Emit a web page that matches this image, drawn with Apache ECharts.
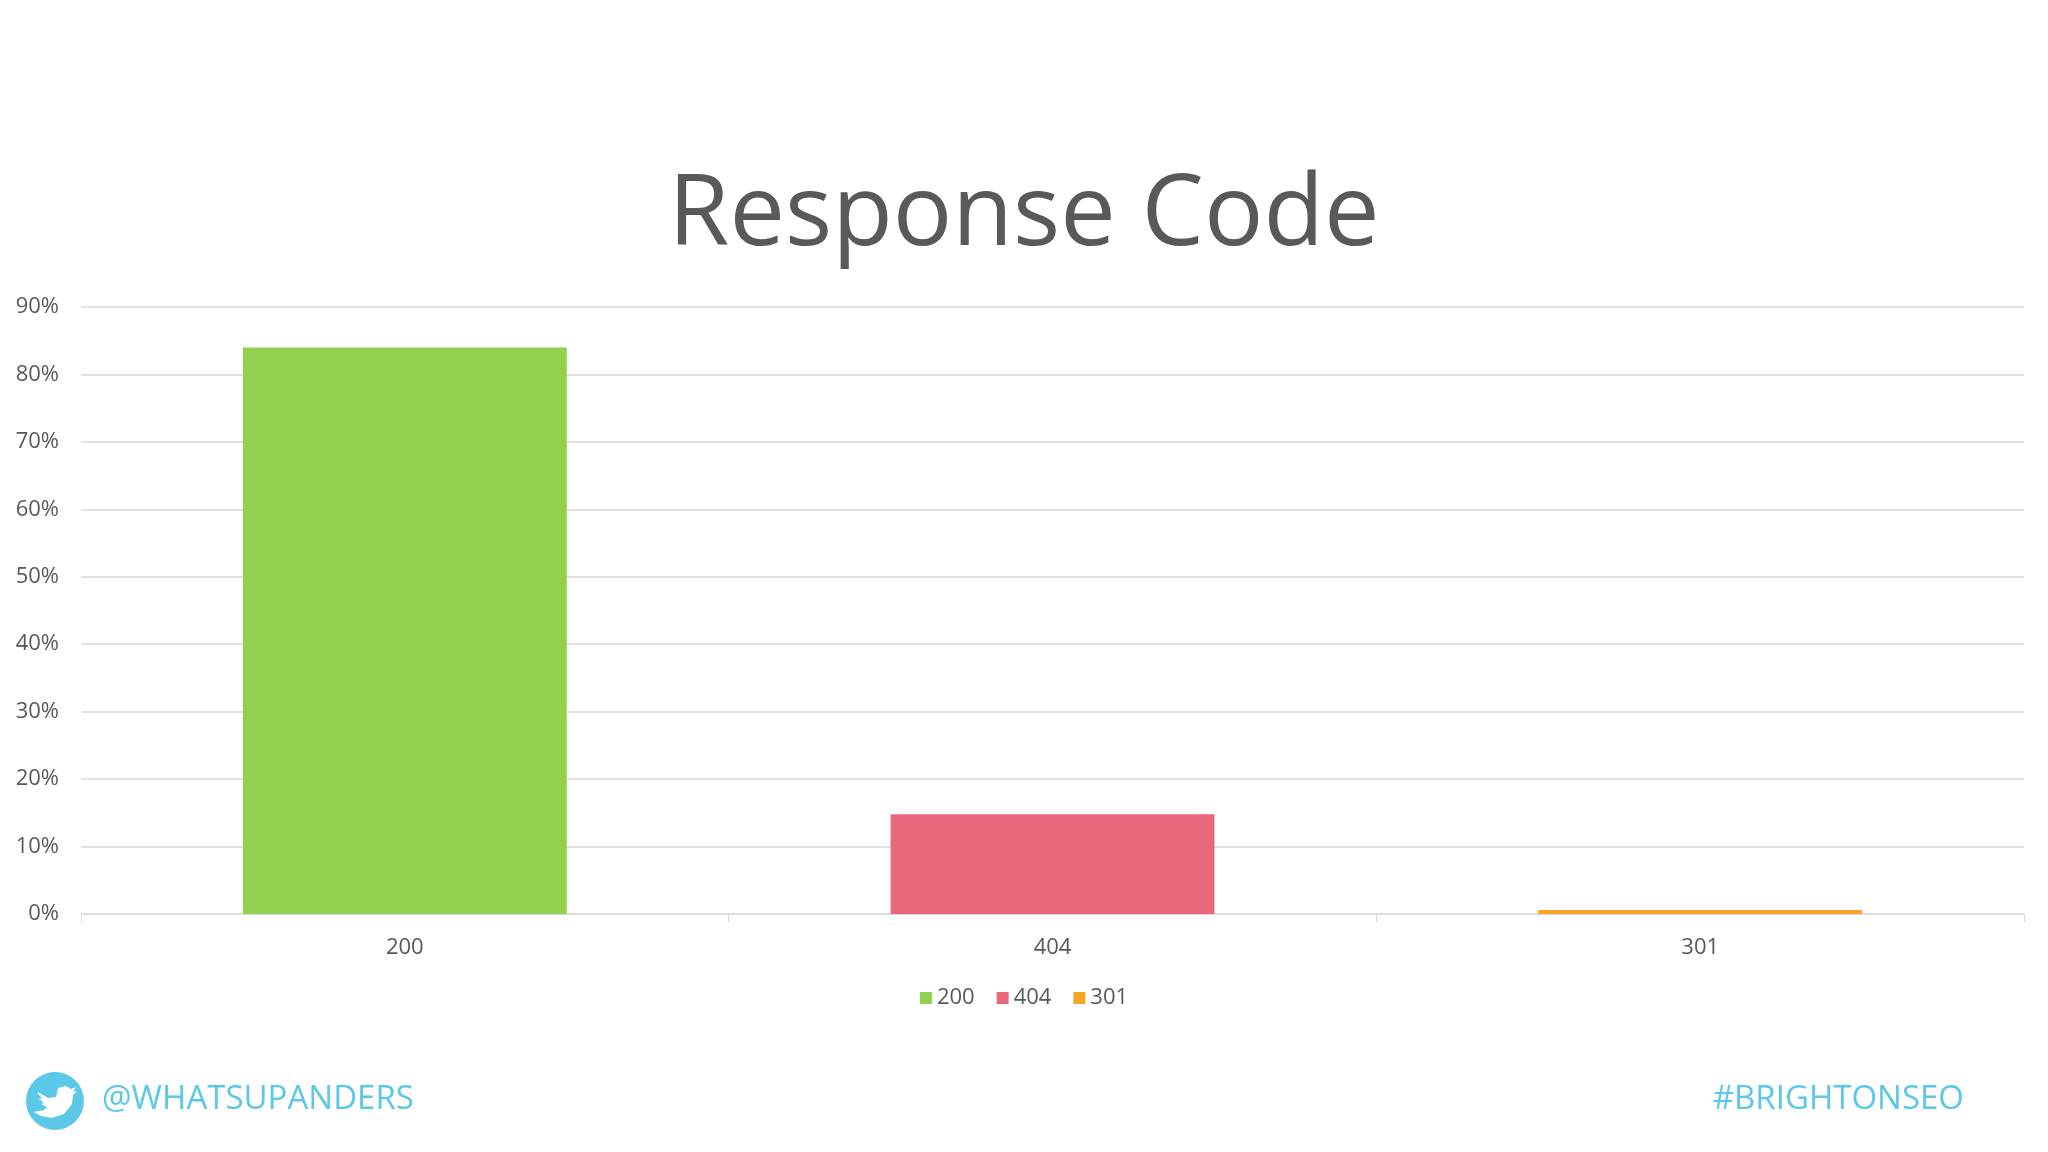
<!DOCTYPE html>
<html><head><meta charset="utf-8">
<script src="https://cdn.jsdelivr.net/npm/echarts@6/dist/echarts.min.js"></script>
<style>html,body{margin:0;padding:0;background:#fff}#c{width:2048px;height:1152px}</style>
</head><body><div id="c"></div>
<script>
const categories = ['200','404','301'];
const seriesNames = ['200','404','301'];
const values = [84, 14.8, 0.6];
const colors = ['#92d050','#e8687a','#f5a623'];

const chart = echarts.init(document.getElementById('c'));
const series = seriesNames.map((n,i)=>({
  name:n, type:'bar', stack:'s', barWidth:'50%',
  itemStyle:{color:colors[i]},
  data: categories.map((c,j)=> j===i ? values[i] : '-')
}));
chart.setOption({
  animation:false,
  title:{text:'Response Code',left:'center',top:162,textStyle:{fontFamily:'Open Sans',fontSize:99,fontWeight:'normal',color:'#595959'}},
  grid:{left:81,right:24,top:307,bottom:238,containLabel:false},
  legend:{bottom:138,left:'center',itemWidth:12,itemHeight:12,icon:'rect',itemGap:22,textStyle:{fontFamily:'Open Sans',fontSize:22,color:'#595959'}},
  xAxis:{type:'category',data:categories,axisLine:{lineStyle:{color:'#d9d9d9'}},axisTick:{show:true,lineStyle:{color:'#d9d9d9'},length:8},axisLabel:{fontFamily:'Open Sans',fontSize:22,color:'#595959',margin:23}},
  yAxis:{type:'value',min:0,max:90,interval:10,axisLine:{show:false},axisTick:{show:false},
    splitLine:{lineStyle:{color:'#d9d9d9',width:1.5}},
    axisLabel:{fontFamily:'Open Sans',fontSize:22,color:'#595959',margin:22,formatter:v=>v+'%'}},
  series,
  graphic:[
    {type:'circle',shape:{cx:55,cy:1101,r:29},style:{fill:'#5bc8e8'}},
    {type:'polygon',shape:{points:[[38,1092],[48,1098],[56,1097],[58,1088],[66,1086],[71,1089],[76,1087],[73,1092],[77,1091],[73,1095],[72,1104],[64,1114],[52,1118],[41,1116],[34,1112],[44,1110],[47,1107],[41,1104],[44,1103],[39,1099],[42,1098],[38,1094]]},style:{fill:'#fff'}},
    {type:'text',left:102,top:1083,style:{text:'@WHATSUPANDERS',fontFamily:'Open Sans',fontSize:33,fill:'#5bc8e8'}},
    {type:'text',right:84,top:1083,style:{text:'#BRIGHTONSEO',fontFamily:'Open Sans',fontSize:33,fill:'#5bc8e8'}}
  ]
});
</script></body></html>
